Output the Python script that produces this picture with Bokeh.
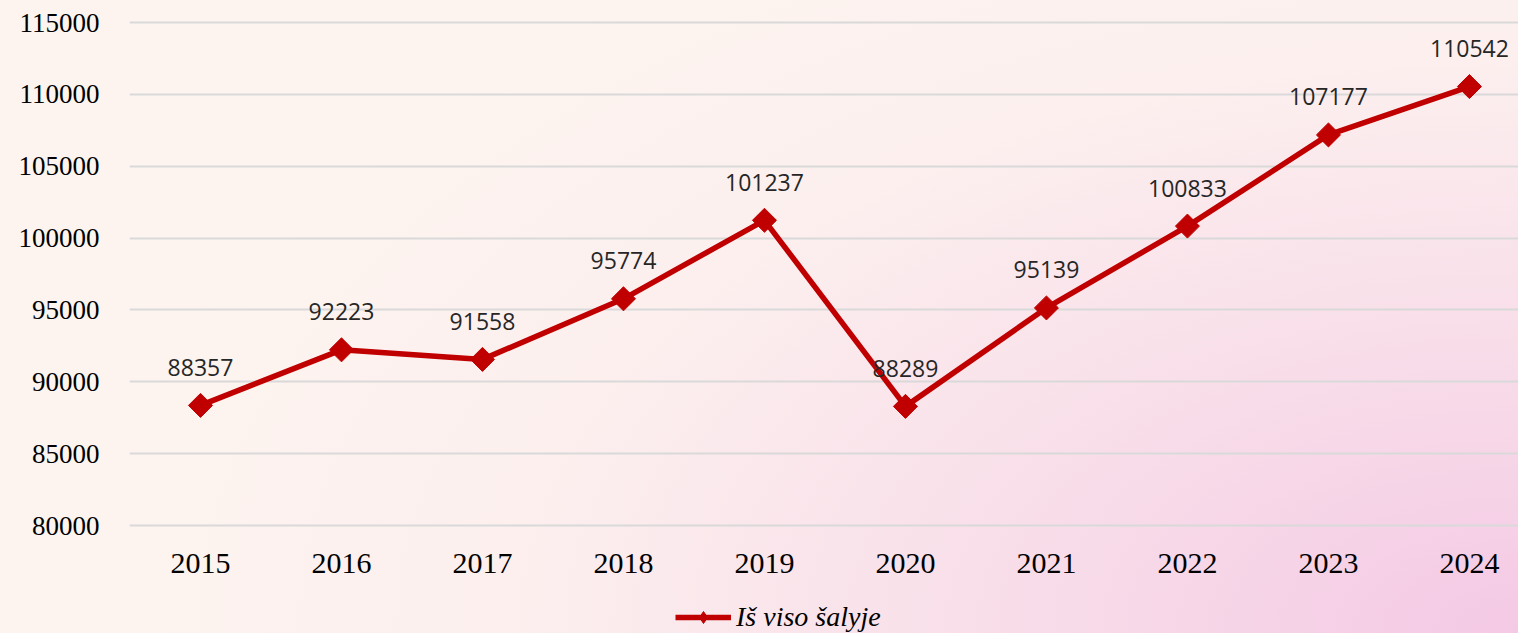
from bokeh.plotting import figure
from bokeh.layouts import column
from bokeh.models import FixedTicker, Range1d, Legend, LegendItem, ColumnDataSource, NumeralTickFormatter
from bokeh.core.properties import value
from bokeh.embed import file_html
from bokeh.resources import INLINE
import math

years = [2015, 2016, 2017, 2018, 2019, 2020, 2021, 2022, 2023, 2024]
totals = [88357, 92223, 91558, 95774, 101237, 88289, 95139, 100833, 107177, 110542]
y_ticks = [80000, 85000, 90000, 95000, 100000, 105000, 110000, 115000]
series_name = "Iš viso šalyje"

RED = "#c00000"
src = ColumnDataSource(dict(x=years, y=totals, lbl=[str(v) for v in totals]))

p = figure(width=1518, height=585, output_backend="svg", toolbar_location=None,
           x_range=Range1d(2014.4965, 2024.348), y_range=Range1d(79722, 115696),
           min_border_left=129, min_border_right=0, min_border_top=12, min_border_bottom=56)

p.background_fill_alpha = 0
p.border_fill_alpha = 0
p.outline_line_color = None

line = p.line("x", "y", source=src, line_color=RED, line_width=5.5)
marks = p.scatter("x", "y", source=src, marker="square", size=17, angle=math.pi / 4,
                  fill_color=RED, line_color=RED)
p.text("x", "y", text="lbl", source=src, text_font=value("Open Sans"), text_font_size="23px",
       text_color="#262626", text_align="center", text_baseline="alphabetic", y_offset=-38)

p.xgrid.grid_line_color = None
p.ygrid.grid_line_color = "#d9d9d9"
p.ygrid.grid_line_width = 2
p.ygrid.ticker = FixedTicker(ticks=y_ticks)

p.yaxis.ticker = FixedTicker(ticks=y_ticks)
p.yaxis.formatter = NumeralTickFormatter(format="0")
p.xaxis.ticker = FixedTicker(ticks=years)
for ax in (p.xaxis, p.yaxis):
    ax.axis_line_color = None
    ax.major_tick_line_color = None
    ax.minor_tick_line_color = None
    ax.major_label_text_font = "Liberation Serif"
    ax.major_label_text_color = "#000000"
p.yaxis.major_label_text_font_size = "27px"
p.xaxis.major_label_text_font_size = "30px"
p.yaxis.major_label_standoff = 24
p.xaxis.major_label_standoff = 18

# legend strip (renderers hold one point outside the visible range; only the legend shows)
lg = figure(width=1518, height=48, output_backend="svg", toolbar_location=None,
            x_range=Range1d(0, 1), y_range=Range1d(0, 1),
            x_axis_location=None, y_axis_location=None,
            min_border_left=129, min_border_right=0, min_border_top=0, min_border_bottom=0)
lg.background_fill_alpha = 0
lg.border_fill_alpha = 0
lg.outline_line_color = None
lg.xgrid.visible = False
lg.ygrid.visible = False
hidden = ColumnDataSource(dict(x=[-50], y=[-50]))
lline = lg.line("x", "y", source=hidden, line_color=RED, line_width=5.5)
lmark = lg.scatter("x", "y", source=hidden, marker="diamond", size=20,
                   fill_color=RED, line_color=RED)
legend = Legend(items=[LegendItem(label=series_name, renderers=[lline, lmark])],
                location=(546, 0), orientation="horizontal",
                label_text_font="Liberation Serif", label_text_font_style="italic",
                label_text_font_size="28px", label_text_color="#000000",
                glyph_width=56, glyph_height=30, label_standoff=5,
                background_fill_alpha=0, border_line_color=None,
                padding=0, margin=0)
lg.add_layout(legend, "center")

layout = column(p, lg, spacing=0, width=1518,
                styles={"background": "radial-gradient(ellipse 95% 130% at 100% 100%, #f4c9e5 0%, #f8dde9 35%, #fcefee 70%, #fdf4ef 100%)"})

open("out.html", "w").write(file_html(layout, INLINE))
